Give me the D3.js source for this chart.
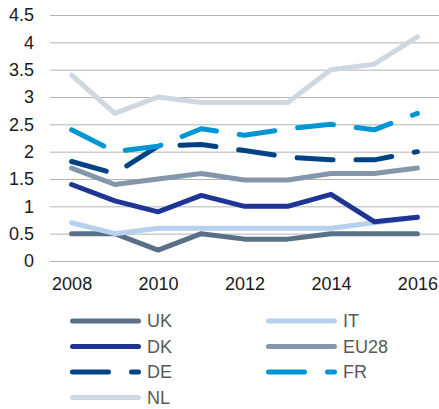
<!DOCTYPE html>
<html>
<head>
<meta charset="utf-8">
<script src="https://cdn.jsdelivr.net/npm/d3@7"></script>
<style>
  body { margin: 0; background: #fff; }
  svg { display: block; font-family: "Liberation Sans", Arial, sans-serif; }
</style>
</head>
<body>
<svg id="chart" width="439" height="409"></svg>
<script>
// data
var years = [2008, 2009, 2010, 2011, 2012, 2013, 2014, 2015, 2016];
var xTicks = [2008, 2010, 2012, 2014, 2016];
var yTicks = [0, 0.5, 1, 1.5, 2, 2.5, 3, 3.5, 4, 4.5];

var uk   = [0.5, 0.5, 0.2, 0.5, 0.4, 0.4, 0.5, 0.5, 0.5];
var it   = [0.7, 0.5, 0.6, 0.6, 0.6, 0.6, 0.6, 0.7, 0.8];
var dk   = [1.4, 1.1, 0.9, 1.2, 1.0, 1.0, 1.22, 0.72, 0.8];
var eu28 = [1.7, 1.4, 1.5, 1.6, 1.48, 1.48, 1.6, 1.6, 1.7];
var de   = [1.82, 1.6, 2.1, 2.13, 2.02, 1.9, 1.85, 1.85, 2.0];
var fr   = [2.4, 2.0, 2.1, 2.42, 2.3, 2.42, 2.5, 2.4, 2.7];
var nl   = [3.4, 2.7, 3.0, 2.9, 2.9, 2.9, 3.5, 3.6, 4.1];

var series = [
  {name: "UK",   values: uk,   color: "#5a7086", dash: false},
  {name: "IT",   values: it,   color: "#b6d0ee", dash: false},
  {name: "DK",   values: dk,   color: "#1f3596", dash: false},
  {name: "EU28", values: eu28, color: "#8497aa", dash: false},
  {name: "DE",   values: de,   color: "#004385", dash: true},
  {name: "FR",   values: fr,   color: "#0096d6", dash: true},
  {name: "NL",   values: nl,   color: "#cfd8e0", dash: false}
];

var svg = d3.select("#chart");
var plotLeft = 50, plotRight = 439, plotTop = 15, plotBottom = 261;

var x = d3.scalePoint().domain(years).range([plotLeft, plotRight]).padding(0.5);
var y = d3.scaleLinear().domain([0, 4.5]).range([plotBottom, plotTop]);

// gridlines + y labels
var yAxis = svg.append("g")
  .attr("transform", "translate(" + plotLeft + ",0)")
  .call(d3.axisLeft(y).tickValues(yTicks).tickFormat(d3.format("~g"))
    .tickSize(-(plotRight - plotLeft)).tickPadding(16));
yAxis.select(".domain").remove();
yAxis.selectAll("line").attr("stroke", "#b3b3b3");
yAxis.selectAll("text").style("font-size", "18px").attr("fill", "#1a1a1a");

// x labels
var xAxis = svg.append("g")
  .attr("transform", "translate(0," + plotBottom + ")")
  .call(d3.axisBottom(x).tickValues(xTicks).tickSize(0).tickPadding(16));
xAxis.select(".domain").remove();
xAxis.selectAll("text").style("font-size", "18px").attr("fill", "#1a1a1a");

var line = d3.line()
  .x(function(d, i) { return x(years[i]); })
  .y(function(d) { return y(d); });

// lines
series.forEach(function(s) {
  svg.append("path")
    .attr("d", line(s.values))
    .attr("fill", "none")
    .attr("stroke", s.color)
    .attr("stroke-width", 5)
    .attr("stroke-linecap", "round")
    .attr("stroke-linejoin", "round")
    .attr("stroke-dasharray", s.dash ? "36,23" : null);
});

// legend
series.forEach(function(s, i) {
  var col = i % 2, row = Math.floor(i / 2);
  var lx = 72.5 + col * 196, ly = 321 + row * 25.5;
  svg.append("line")
    .attr("x1", lx).attr("x2", lx + 66)
    .attr("y1", ly).attr("y2", ly)
    .attr("stroke", s.color)
    .attr("stroke-width", 5)
    .attr("stroke-linecap", "round")
    .attr("stroke-dasharray", s.dash ? "36,23" : null);
  svg.append("text")
    .attr("x", lx + 74.5).attr("y", ly)
    .attr("dy", "0.35em")
    .text(s.name)
    .style("font-size", "18px")
    .attr("fill", "#595959");
});
</script>
</body>
</html>
